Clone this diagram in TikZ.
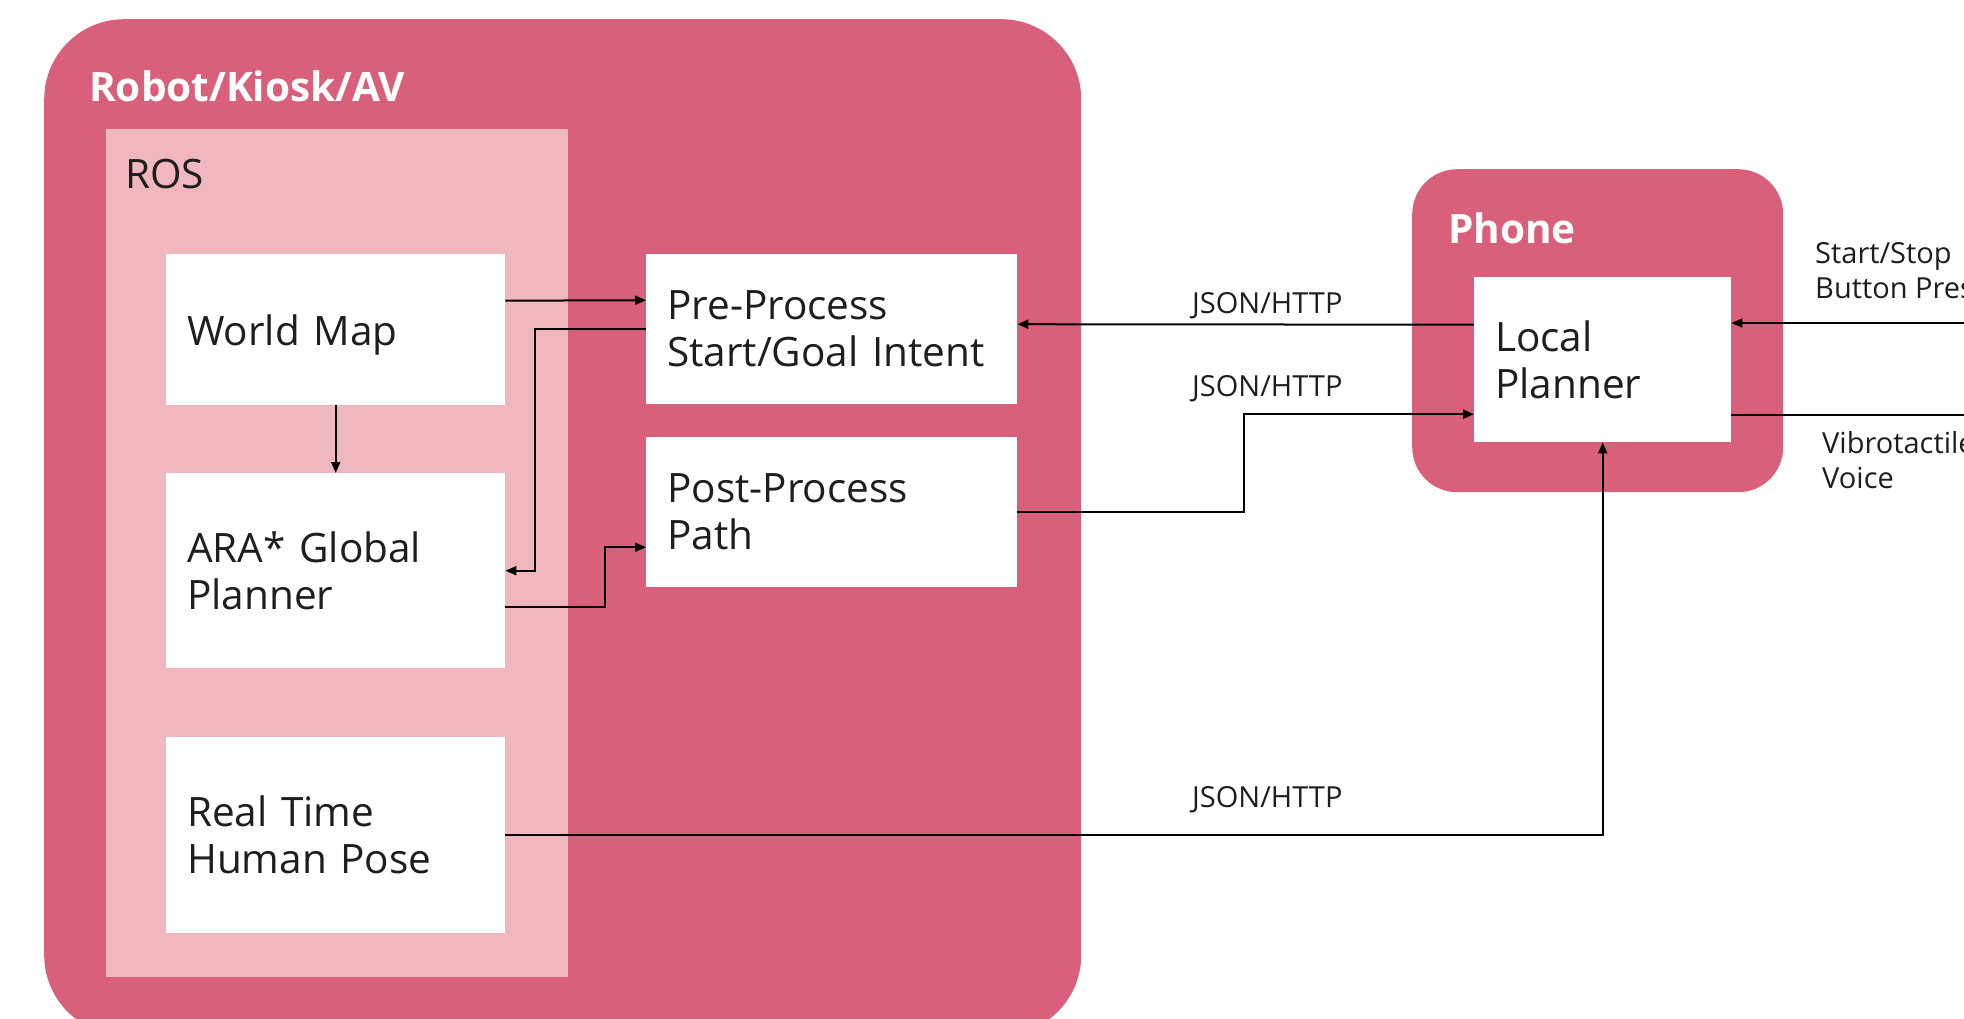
\documentclass[tikz,border=0pt]{standalone}
\usepackage{fontspec}
\setmainfont{Open Sans}
\usetikzlibrary{arrows.meta}
\definecolor{outerpink}{HTML}{D9607A}
\definecolor{rospink}{HTML}{F0B8BE}
\definecolor{ink}{HTML}{1E1E1E}

\begin{document}
\begin{tikzpicture}[x=1pt,y=-1pt,
  container/.style={fill=outerpink, draw=none, anchor=north west, inner sep=0pt},
  module/.style={fill=white, inner xsep=21pt, inner ysep=0pt, align=left,
    anchor=north west, text=ink, font=\fontsize{40.5}{47}\selectfont},
  wire/.style={line width=2pt, black},
  arr/.style={wire, -{Triangle[length=11pt,width=9pt]}},
  tag/.style={inner sep=0pt, anchor=base west, align=left, text=ink,
    font=\fontsize{29}{35}\selectfont},
  heading/.style={inner sep=0pt, anchor=base west, text=white,
    font=\fontsize{40.5}{47}\selectfont\bfseries},
]
\useasboundingbox (0,0) rectangle (1964,1018);
\clip (0,0) rectangle (1964,1018);

% containers
\node[container, rounded corners=80pt, minimum width=1037pt, minimum height=1016pt] (robot) at (44,19) {};
\node[fill=rospink, anchor=north west, inner sep=0pt, minimum width=462pt, minimum height=848pt] (ros) at (106,129) {};
\node[container, rounded corners=45pt, minimum width=371pt, minimum height=323pt] (phone) at (1412,169) {};

\node[heading] (robotlbl) at (89,101) {Robot/Kiosk/AV};
\node[heading] (phonelbl) at (1448,243) {Phone};
\node[tag, font=\fontsize{40.5}{47}\selectfont] (roslbl) at (125,188) {ROS};

% modules
\node[module, text width=297pt, minimum height=151pt, text depth=0pt] (wm) at (166,254) {World Map};
\node[module, text width=297pt, minimum height=195pt] (ara)  at (166,473) {ARA* Global\\Planner};
\node[module, text width=297pt, minimum height=196pt] (rt)   at (166,737) {Real Time\\Human Pose};
\node[module, text width=329pt, minimum height=150pt] (pre)  at (646,254) {Pre-Process\\Start/Goal Intent};
\node[module, text width=329pt, minimum height=150pt] (post) at (646,437) {Post-Process\\Path};
\node[module, text width=215pt, minimum height=165pt] (lp)   at (1474,277) {Local\\Planner};

% connectors inside the robot
\draw[arr] ([yshift=29pt]wm.east) -- ([yshift=29pt]pre.west);
\draw[arr] (wm.south) -- (ara.north);
\draw[arr] (pre.west) -- ++(-111,0) |- (ara.east);
\draw[arr] ([yshift=-36pt]ara.east) -- ++(100,0) |- ([yshift=-35pt]post.west);

% connectors to and from the phone
\draw[arr] ([yshift=35pt]lp.west) -- ([yshift=5pt]pre.east);
\draw[arr] (post.east) -- ++(227,0) |- ([yshift=-54.5pt]lp.west);
\draw[arr] (rt.east) -| (lp.south);

\coordinate (ssin) at (1975,323);
\coordinate (fbout) at (1975,415);
\draw[arr] (ssin) -- (ssin -| lp.east);
\draw[wire] (fbout -| lp.east) -- (fbout);

% connector labels
\node[tag] (j1) at (1192,313) {JSON/HTTP};
\node[tag] (j2) at (1192,396) {JSON/HTTP};
\node[tag] (j3) at (1192,807) {JSON/HTTP};
\node[tag] (sslbl) at (1815,298) {Start/Stop\\Button Press};
\node[tag] (fblbl) at (1822,488) {Vibrotactile\\Voice};
\end{tikzpicture}
\end{document}
